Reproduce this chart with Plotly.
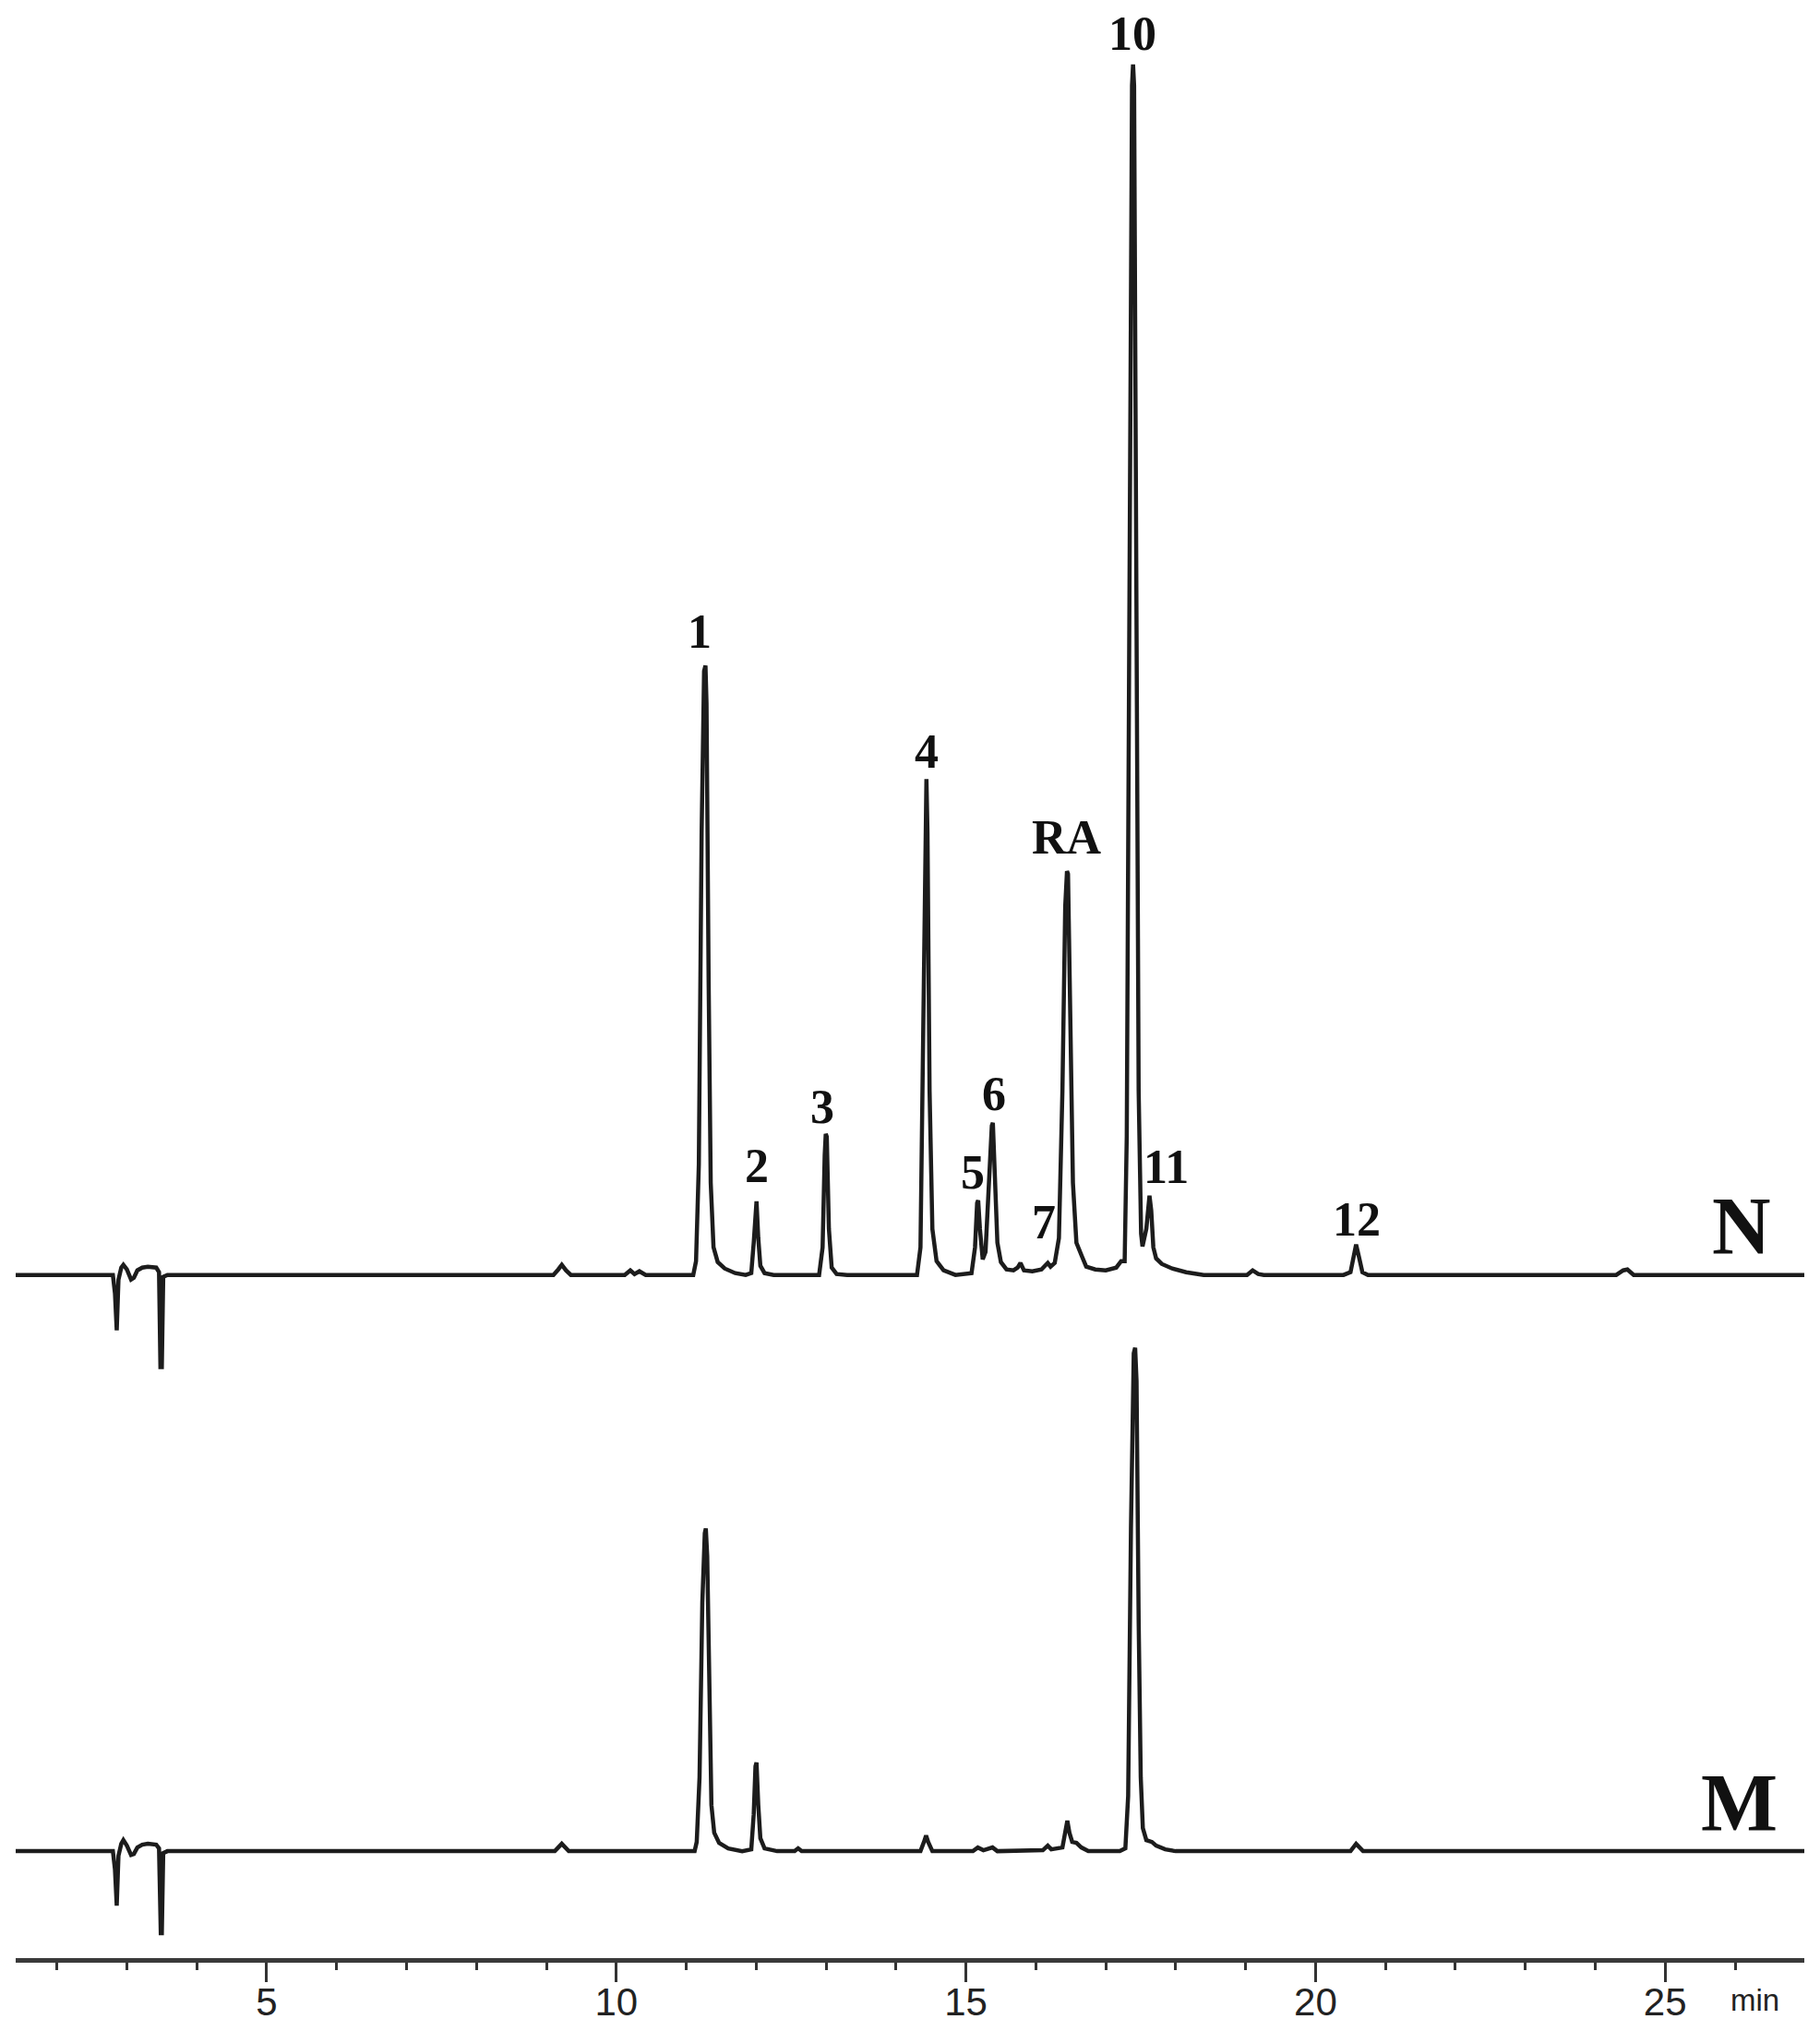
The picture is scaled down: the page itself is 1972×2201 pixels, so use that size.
import plotly.graph_objects as go

# ── chromatogram N (retention time in min, signal in arbitrary units) ──
N_T = [1.41, 2.80, 2.83, 2.855, 2.88, 2.92, 2.95, 3.00, 3.06, 3.10, 3.15, 3.22, 3.30, 3.42, 3.46, 3.48, 3.50, 3.52, 3.58,
       9.10, 9.17, 9.22, 9.28, 9.35, 10.12, 10.20, 10.26, 10.33, 10.42, 11.10,
       11.14, 11.18, 11.22, 11.255, 11.275, 11.29, 11.32, 11.35, 11.39, 11.45, 11.55, 11.70, 11.85,
       11.93, 11.965, 11.99, 12.005, 12.03, 12.06, 12.12, 12.25,
       12.90, 12.95, 12.98, 12.995, 13.01, 13.04, 13.08, 13.15, 13.30,
       14.30, 14.35, 14.39, 14.42, 14.435, 14.45, 14.48, 14.52, 14.58, 14.68, 14.85,
       15.08, 15.13, 15.16, 15.175, 15.20, 15.24,
       15.28, 15.33, 15.37, 15.385, 15.41, 15.45, 15.50, 15.58, 15.68,
       15.74, 15.78, 15.83, 15.95, 16.08, 16.13, 16.17, 16.21, 16.27,
       16.33, 16.38, 16.42, 16.445, 16.46, 16.49, 16.53, 16.58, 16.62, 16.66, 16.72, 16.85, 17.00, 17.15, 17.22,
       17.27, 17.30, 17.34, 17.375, 17.39, 17.405, 17.44, 17.47, 17.505, 17.525,
       17.58, 17.61, 17.625, 17.65, 17.68, 17.72, 17.80, 17.95, 18.15, 18.40, 19.02, 19.10, 19.18, 19.26,
       20.40, 20.50, 20.55, 20.58, 20.62, 20.67, 20.75, 24.30, 24.40, 24.46, 24.55, 26.99]
N_Y = [0, 0, -20, -60, -5, 8, 11, 6, -5, -3, 5, 8, 9, 8, 3, -100, -100, -2, 0,
       0, 6, 11, 5, 0, 0, 5, 1, 4, 0, 0,
       15, 120, 480, 655, 661, 620, 320, 100, 30, 14, 7, 2, 0,
       2, 35, 78, 80, 40, 10, 2, 0,
       0, 30, 130, 153, 150, 50, 8, 1, 0,
       0, 30, 300, 530, 538, 480, 200, 50, 15, 5, 0,
       2, 30, 78, 81, 50, 17,
       25, 110, 162, 165, 110, 35, 14, 6, 5,
       8, 13, 5, 4, 6, 10, 13, 9, 13,
       40, 200, 400, 438, 435, 300, 100, 35, 26, 20, 9, 6, 5, 8, 15,
       15, 150, 900, 1290, 1313, 1290, 700, 200, 45, 31,
       50, 84, 86, 70, 30, 18, 12, 7, 3, 0, 0, 5, 1, 0,
       0, 3, 25, 33, 20, 3, 0, 0, 5, 6, 0, 0]

# ── chromatogram M ──
M_T = [1.41, 2.80, 2.83, 2.855, 2.88, 2.92, 2.95, 3.00, 3.06, 3.10, 3.15, 3.22, 3.30, 3.42, 3.46, 3.485, 3.50, 3.52, 3.58,
       9.12, 9.22, 9.32, 11.12,
       11.15, 11.19, 11.23, 11.265, 11.28, 11.30, 11.33, 11.36, 11.40, 11.47, 11.60, 11.80,
       11.93, 11.965, 11.99, 12.005, 12.03, 12.06, 12.12, 12.30,
       12.55, 12.60, 12.65, 14.35, 14.40, 14.43, 14.46, 14.52,
       15.10, 15.17, 15.25, 15.38, 15.45, 16.10, 16.17, 16.22,
       16.38, 16.42, 16.45, 16.48, 16.52, 16.58, 16.65, 16.75, 17.20,
       17.28, 17.32, 17.36, 17.40, 17.42, 17.44, 17.47, 17.50, 17.53, 17.58, 17.66, 17.72, 17.85, 18.00,
       20.50, 20.58, 20.68, 26.99]
M_Y = [0, 0, -20, -59, -5, 8, 12, 6, -4, -3, 4, 7, 8, 7, 3, -89, -89, -2, 0,
       0, 8, 0, 0,
       10, 80, 270, 345, 350, 320, 150, 50, 20, 9, 3, 0,
       2, 40, 92, 96, 50, 14, 3, 0,
       0, 3, 0, 0, 10, 17, 10, 0,
       0, 4, 1, 4, 0, 1, 6, 2,
       4, 25, 33, 20, 10, 9, 4, 0, 0,
       3, 60, 350, 540, 546, 510, 250, 80, 25, 12, 10, 6, 2, 0,
       0, 8, 0, 0]

# peak labels on trace N: label, apex time, apex height
LABELS = ["1", "2", "3", "4", "5", "6", "7", "RA", "10", "11", "12"]
LABEL_T = [11.275, 12.005, 12.995, 14.435, 15.175, 15.385, 16.17, 16.445, 17.39, 17.625, 20.58]
LABEL_Y = [661, 80, 153, 538, 81, 165, 13, 438, 1313, 86, 33]

TRACE_NAMES = ["N", "M"]
TICK_VALS = [5, 10, 15, 20, 25]

# layout: the page body has an 8px margin, so the figure is 16px smaller than the window
W, H = 1956, 2185
AXIS_Y = 2116            # x axis line, px from figure top
N_BASE = 741             # baselines, px above the x axis
M_BASE = 116
LINE = "#1c1c1c"
SERIF = "Liberation Serif"

# label nudges (xshift, yshift) in px
NUDGE = {"1": (-6, 37), "2": (0, 38), "3": (-4, 29), "4": (0, 30), "5": (-6, 30),
         "6": (1, 31), "7": (-4, 44), "RA": (0, 37), "10": (-1, 33), "11": (18, 31), "12": (1, 27)}

fig = go.Figure()
fig.add_trace(go.Scatter(x=N_T, y=[v + N_BASE for v in N_Y], mode="lines",
                         line=dict(color=LINE, width=4.5), name=TRACE_NAMES[0]))
fig.add_trace(go.Scatter(x=M_T, y=[v + M_BASE for v in M_Y], mode="lines",
                         line=dict(color=LINE, width=4.5), name=TRACE_NAMES[1]))

for lab, t, h in zip(LABELS, LABEL_T, LABEL_Y):
    dx, dy = NUDGE[lab]
    fig.add_annotation(x=t, y=h + N_BASE, text=f"<b>{lab}</b>", showarrow=False,
                       xanchor="center", yanchor="middle", xshift=dx, yshift=dy,
                       font=dict(family=SERIF, size=52, color="#111"))

# trace names
fig.add_annotation(x=26.03, y=N_BASE + 56, text="<b>N</b>", showarrow=False,
                   xanchor="center", yanchor="middle", xshift=5, yshift=-3,
                   font=dict(family=SERIF, size=88, color="#111"))
fig.add_annotation(x=25.99, y=M_BASE + 58, text="<b>M</b>", showarrow=False,
                   xanchor="center", yanchor="middle", xshift=5, yshift=-5,
                   font=dict(family=SERIF, size=88, color="#111"))

# unit next to the last tick label
fig.add_annotation(x=25, y=0, yref="paper", text="min", showarrow=False,
                   xanchor="left", yanchor="middle", xshift=69, yshift=-45,
                   font=dict(family="Liberation Sans", size=33, color="#222"))

fig.update_xaxes(
    range=[1.41, 26.99], showgrid=False, zeroline=False,
    showline=True, linewidth=5, linecolor="#3a3a3a",
    tickmode="array", tickvals=TICK_VALS, ticktext=[str(v) for v in TICK_VALS],
    ticks="outside", ticklen=21, tickwidth=3, tickcolor="#333",
    ticklabelstandoff=-14,
    tickfont=dict(family="Liberation Sans", size=42, color="#222"),
    minor=dict(dtick=1, tick0=0, ticks="outside", ticklen=8, tickwidth=3,
               tickcolor="#333", showgrid=False),
)
fig.update_yaxes(range=[0, AXIS_Y], visible=False)

fig.update_layout(
    width=W, height=H,
    margin=dict(l=9, r=9, t=0, b=H - AXIS_Y, pad=0),
    plot_bgcolor="white", paper_bgcolor="white",
    showlegend=False,
)

fig.write_html("out.html")
